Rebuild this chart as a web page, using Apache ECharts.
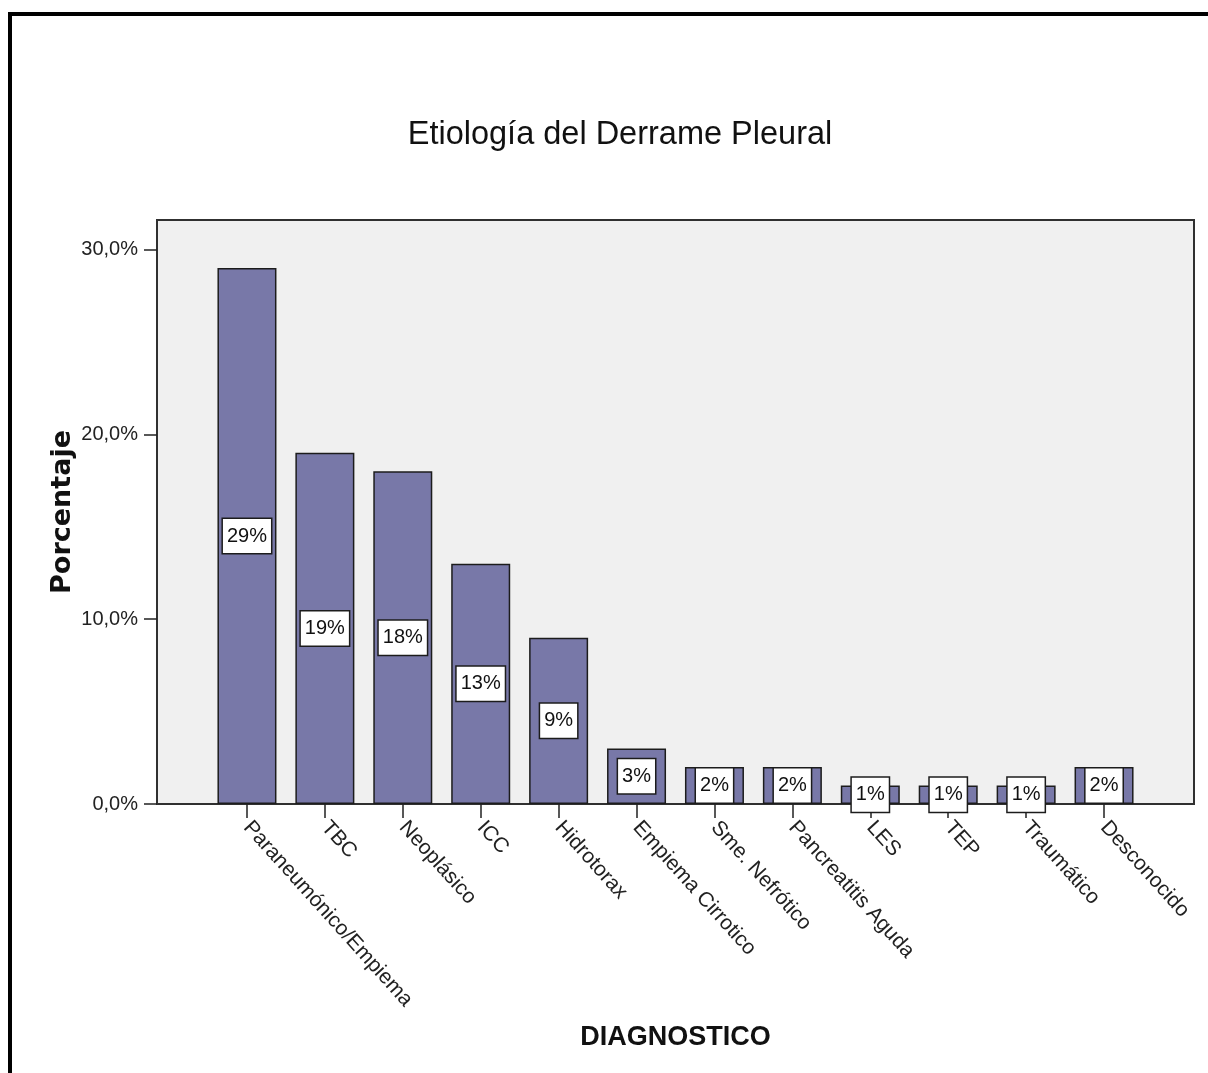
<!DOCTYPE html>
<html>
<head>
<meta charset="utf-8">
<title>Etiología del Derrame Pleural</title>
<script src="https://cdn.jsdelivr.net/npm/echarts@6/dist/echarts.min.js"></script>
<style>
  html, body { margin: 0; padding: 0; background: #ffffff; }
  #chart { width: 1208px; height: 1073px; }
</style>
</head>
<body>
<div id="chart"></div>
<script>
// Diagnoses, in the order shown on the horizontal axis
const categories = [
  'Paraneumónico/Empiema', 'TBC', 'Neoplásico', 'ICC', 'Hidrotorax',
  'Empiema Cirrotico', 'Sme. Nefrótico', 'Pancreatitis Aguda',
  'LES', 'TEP', 'Traumático', 'Desconocido'
];

// Percentage of patients per diagnosis
const percentages = [29, 19, 18, 13, 9, 3, 2, 2, 1, 1, 1, 2];

// Vertical axis ticks (percent)
const yTicks = [0, 10, 20, 30];

const chart = echarts.init(document.getElementById('chart'), null, { renderer: 'canvas' });

const FONT = '"Liberation Sans", Arial, sans-serif';

chart.setOption({
  backgroundColor: '#ffffff',
  animation: false,
  title: {
    text: 'Etiología del Derrame Pleural',
    left: 615,
    top: 114,
    textAlign: 'center',
    textStyle: { fontFamily: FONT, fontSize: 32.5, fontWeight: 'normal', color: '#111' }
  },
  graphic: [
    {
      // outer frame of the figure
      type: 'rect',
      shape: { x: 10, y: 14, width: 1400, height: 1300 },
      style: { fill: 'none', stroke: '#000', lineWidth: 4 },
      silent: true
    }
  ],
  grid: [
    // data grid (categories sit inside the plot frame with side padding)
    { left: 208, right: 65, top: 220, bottom: 1073 - 804, containLabel: false },
    // plot frame with grey background
    {
      left: 157, right: 14, top: 220, bottom: 1073 - 804, show: true,
      backgroundColor: '#f0f0f0', borderColor: '#303030', borderWidth: 2, z: 0
    }
  ],
  xAxis: [
    {
      type: 'category',
      gridIndex: 0,
      data: categories,
      boundaryGap: true,
      axisLine: { show: false },
      axisTick: {
        show: true, alignWithLabel: true, interval: 0, length: 14, inside: false,
        lineStyle: { color: '#222', width: 1.5 }
      },
      axisLabel: {
        interval: 0, rotate: -48, margin: 20,
        verticalAlign: 'middle',
        fontFamily: FONT, fontSize: 21, color: '#222'
      },
      name: 'DIAGNOSTICO',
      nameLocation: 'middle',
      nameGap: 220,
      nameMoveOverlap: false,
      nameTextStyle: { fontFamily: FONT, fontSize: 27, fontWeight: 'bold', color: '#111' },
      splitLine: { show: false }
    },
    {
      type: 'value', gridIndex: 1, min: 0, max: 1, show: false
    }
  ],
  yAxis: [
    {
      type: 'value',
      gridIndex: 0,
      min: 0,
      max: 31.6,
      interval: 10,
      position: 'left',
      offset: 51,
      axisLine: { show: false },
      axisTick: {
        show: true, length: 13, inside: false, customValues: yTicks,
        lineStyle: { color: '#222', width: 1.5 }
      },
      axisLabel: {
        customValues: yTicks,
        margin: 19,
        formatter: v => v.toFixed(1).replace('.', ',') + '%',
        fontFamily: FONT, fontSize: 20, color: '#222'
      },
      splitLine: { show: false },
      name: 'Porcentaje',
      nameLocation: 'middle',
      nameRotate: 90,
      nameGap: 81,
      nameMoveOverlap: false,
      nameTextStyle: { fontFamily: '"DejaVu Sans", sans-serif', fontSize: 27, fontWeight: 'bold', color: '#111' }
    },
    {
      type: 'value', gridIndex: 1, min: 0, max: 1, show: false
    }
  ],
  series: [
    {
      type: 'bar',
      xAxisIndex: 0,
      yAxisIndex: 0,
      data: percentages,
      barWidth: 59,
      itemStyle: { color: '#7878a8', borderColor: '#1c1c1c', borderWidth: 1.5 },
      label: {
        show: true,
        position: 'inside',
        formatter: p => p.value + '%',
        fontFamily: FONT,
        fontSize: 20,
        color: '#111',
        backgroundColor: '#ffffff',
        borderColor: '#1c1c1c',
        borderWidth: 1.5,
        padding: [8, 4, 6, 4]
      },
      z: 3
    }
  ]
});
</script>
</body>
</html>
